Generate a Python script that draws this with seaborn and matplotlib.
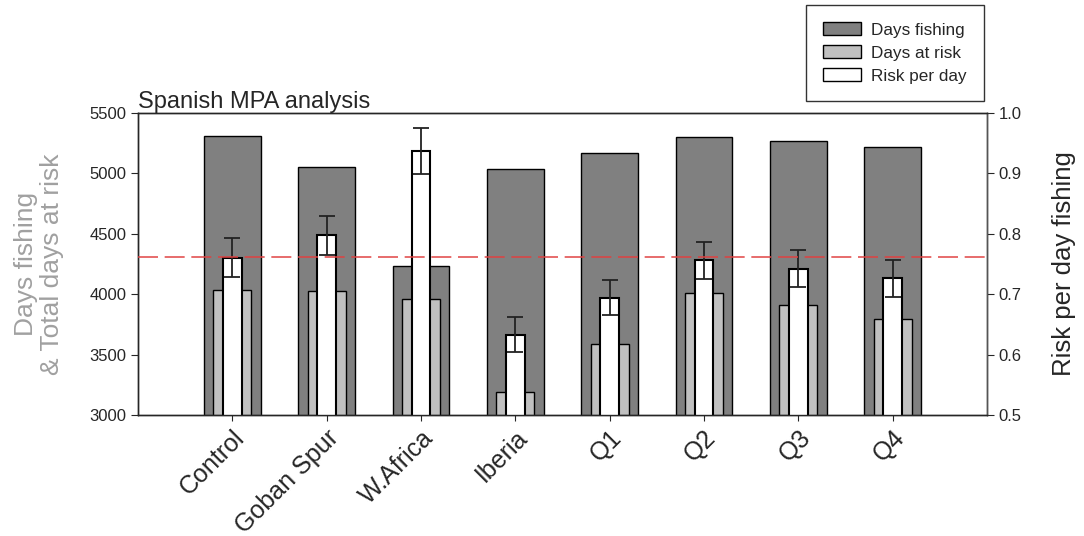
import numpy as np
import matplotlib
matplotlib.use("Agg")
import matplotlib.pyplot as plt
import seaborn as sns
from matplotlib.patches import Patch

# Data
regions = ["Control", "Goban Spur", "W.Africa", "Iberia", "Q1", "Q2", "Q3", "Q4"]
days_fishing = [5307, 5054, 4229, 5034, 5167, 5296, 5268, 5219]
days_at_risk = [4036, 4028, 3959, 3190, 3587, 4011, 3912, 3793]
risk_per_day = [0.760, 0.797, 0.936, 0.633, 0.694, 0.756, 0.742, 0.726]
risk_err = [0.032, 0.033, 0.038, 0.029, 0.029, 0.031, 0.031, 0.031]
control_line = 0.761

sns.set_style("ticks")
plt.rcParams["font.family"] = ["Liberation Sans", "DejaVu Sans"]

fig = plt.figure(figsize=(10.84, 5.36), dpi=100)
ax = fig.add_axes([0.1273, 0.2257, 0.7832, 0.564])

sns.barplot(x=regions, y=days_fishing, color="#808080", saturation=1,
            width=0.6, edgecolor="black", linewidth=1, ax=ax)
sns.barplot(x=regions, y=days_at_risk, color="#c0c0c0", saturation=1,
            width=0.4, edgecolor="black", linewidth=1, ax=ax)
ax.set_ylim(3000, 5500)
ax.set_xlim(-1, 8)
ax.set_yticks([3000, 3500, 4000, 4500, 5000, 5500])
ax.set_ylabel("Days fishing\n& Total days at risk", fontsize=19, color="#a0a0a0",
              linespacing=1.1, labelpad=18)
ax.set_xlabel("")
ax.tick_params(axis="y", labelsize=12, direction="out", length=5)
ax.tick_params(axis="x", labelsize=18, direction="out", length=4)
plt.setp(ax.get_xticklabels(), rotation=45, ha="right", rotation_mode="anchor")
ax.set_title("Spanish MPA analysis", loc="left", fontsize=17, pad=2)

ax2 = ax.twinx()
sns.barplot(x=regions, y=risk_per_day, color="white", saturation=1,
            width=0.2, edgecolor="black", linewidth=1.5, ax=ax2)
ax2.errorbar(np.arange(len(regions)), risk_per_day, yerr=risk_err, fmt="none",
             ecolor="#222222", elinewidth=1.3, capsize=6, capthick=1.3)
ax2.axhline(control_line, color="#e04040", linestyle=(0, (12, 4)), linewidth=1.2,
            alpha=0.9, zorder=10)
ax2.set_ylim(0.5, 1.0)
ax2.set_xlim(-1, 8)
ax2.set_yticks([0.5, 0.6, 0.7, 0.8, 0.9, 1.0])
ax2.set_yticklabels(["0.5", "0.6", "0.7", "0.8", "0.9", "1.0"])
ax2.set_ylabel("Risk per day fishing", fontsize=18.5, labelpad=22)
ax2.tick_params(axis="y", labelsize=12, direction="out", length=5)
ax2.spines["right"].set_color("#555555")

for a in (ax, ax2):
    for s in a.spines.values():
        s.set_linewidth(1)

handles = [Patch(facecolor="#808080", edgecolor="black", label="Days fishing"),
           Patch(facecolor="#c0c0c0", edgecolor="black", label="Days at risk"),
           Patch(facecolor="white", edgecolor="black", label="Risk per day")]
leg = fig.legend(handles=handles, loc="upper right", bbox_to_anchor=(0.9077, 0.9907),
                 borderaxespad=0, fontsize=12.3, frameon=True, fancybox=False,
                 edgecolor="black", handlelength=2.2, handleheight=0.8,
                 borderpad=1.0, labelspacing=0.45, handletextpad=0.6)
leg.get_frame().set_linewidth(1)

fig.savefig("out.png", dpi=100)
